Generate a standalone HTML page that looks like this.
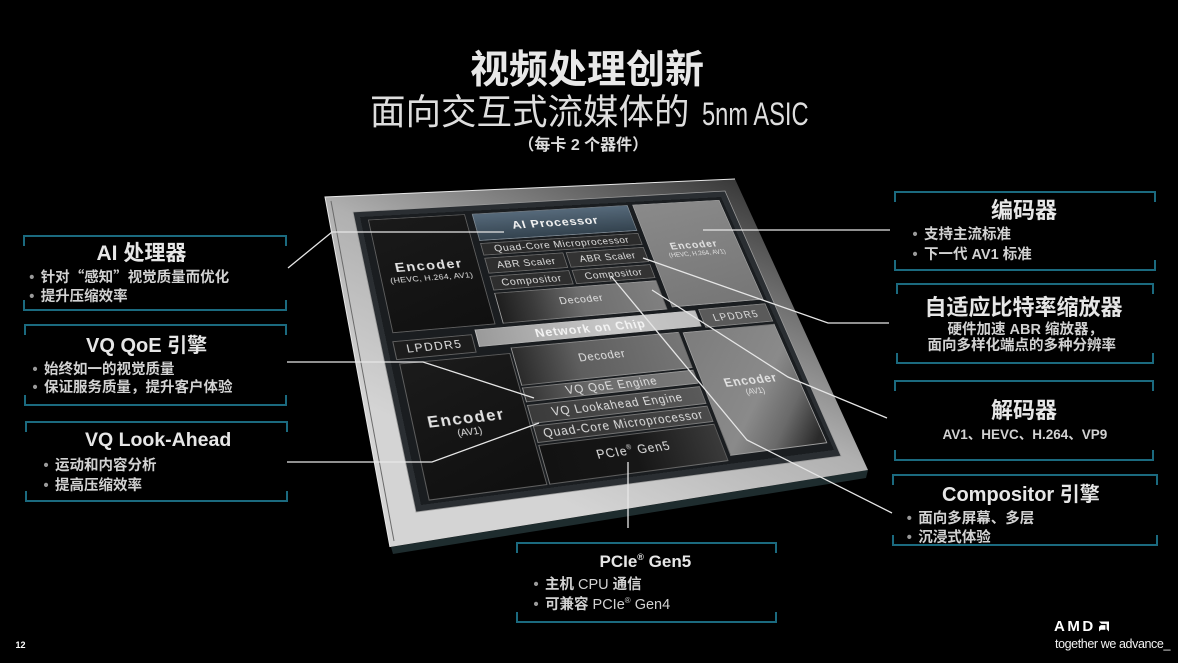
<!DOCTYPE html>
<html><head><meta charset="utf-8">
<style>
*{margin:0;padding:0;box-sizing:border-box}
html,body{width:1178px;height:663px;background:#000;overflow:hidden}
body{position:relative;font-family:"Liberation Sans","Noto Sans CJK SC",sans-serif}
.t{position:absolute;white-space:nowrap;line-height:1;z-index:4}
.bt{font-weight:bold;color:#e6e6e6}
.bl{font-weight:bold;color:#d2d2d2;font-size:14.5px}
.b{display:inline-block;width:11.5px;color:#9a9a9a}
.q{font-family:"Noto Sans CJK SC",sans-serif}
#die{position:absolute;left:0;top:0;width:440px;height:320px;transform-origin:0 0;
transform:matrix3d(0.99209,0.001432,0,0.00023805,-0.012719,0.65606,0,-0.00048303,0,0,1,0,360,217,0,1);
background:#1a1d20;z-index:2}
#die div{position:absolute;display:flex;flex-direction:column;align-items:center;justify-content:center;color:#e2e2e2;line-height:1;white-space:nowrap;border:1px solid rgba(195,195,195,.42);font-family:"Liberation Sans",sans-serif}
#die span{display:block}
.enc{font-weight:bold}
</style></head>
<body>

<svg width="1178" height="663" style="position:absolute;left:0;top:0;z-index:1">
<defs>
<linearGradient id="fg" gradientUnits="userSpaceOnUse" x1="760" y1="190" x2="600" y2="520">
<stop offset="0" stop-color="#383838"/>
<stop offset="0.3" stop-color="#7a7a7a"/>
<stop offset="0.55" stop-color="#b0b0b0"/>
<stop offset="1" stop-color="#d4d4d4"/>
</linearGradient>
</defs>
<polygon points="391,547 868,470 866,478 393,554" fill="#1e2c2e"/>
<polygon points="325,197 735,179 868,470 390,547" fill="url(#fg)"/>
<polyline points="390,547 325,197 735,179" fill="none" stroke="#e8e8e8" stroke-width="1"/>
<polyline points="394,541 331,201" fill="none" stroke="#6a6a6a" stroke-width="1"/>
<polygon points="353,212 725,191 841,456 416,512" fill="#2a2e32" stroke="#9a9a9a" stroke-width="0.8"/>
</svg>

<div id="die">
  <div style="left:8px;top:4px;width:110px;height:139px;background:linear-gradient(160deg,#1a1a1a,#101010)"><span class="enc" style="font-size:16px;letter-spacing:1.5px">Encoder</span><span style="font-size:9.5px;margin-top:2px;letter-spacing:.3px">(HEVC, H.264, AV1)</span></div>
  <div style="left:126px;top:4px;width:190px;height:36px;background:linear-gradient(#56697a,#34434f)"><span style="font-size:15px;font-weight:bold;letter-spacing:1px;color:#f2f2f2">AI Processor</span></div>
  <div style="left:126px;top:43px;width:190px;height:16px;background:#2b2b2b"><span style="font-size:12px;letter-spacing:.7px">Quad-Core Microprocessor</span></div>
  <div style="left:126px;top:62px;width:92px;height:20px;background:#2e2e2e"><span style="font-size:12px;letter-spacing:.6px">ABR Scaler</span></div>
  <div style="left:221px;top:62px;width:95px;height:20px;background:#333"><span style="font-size:12px;letter-spacing:.6px">ABR Scaler</span></div>
  <div style="left:126px;top:85px;width:92px;height:18px;background:#2e2e2e"><span style="font-size:12px;letter-spacing:.8px">Compositor</span></div>
  <div style="left:221px;top:85px;width:95px;height:18px;background:#333"><span style="font-size:12px;letter-spacing:.8px">Compositor</span></div>
  <div style="left:126px;top:106px;width:190px;height:37px;padding-bottom:6px;background:linear-gradient(to right,#1e1e1e 0%,#3a3a3a 20%,#6e6e6e 50%,#808080 100%)"><span style="font-size:12px;letter-spacing:.8px">Decoder</span></div>
  <div style="left:322px;top:4px;width:114px;height:137px;padding-bottom:8px;background:linear-gradient(170deg,#8a8a8a,#767676)"><span class="enc" style="font-size:13px;letter-spacing:1.2px">Encoder</span><span style="font-size:8px;margin-top:2px">(HEVC, H.264, AV1)</span></div>
  <div style="left:352px;top:146px;width:84px;height:23px;background:#5a5a5a"><span style="font-size:12px;letter-spacing:1.5px">LPDDR5</span></div>
  <div style="left:94px;top:147px;width:254px;height:20px;background:linear-gradient(to right,#9a9a9a,#c9c9c9 60%,#bdbdbd)"><span style="font-size:14px;font-weight:bold;letter-spacing:1px;color:#f4f4f4">Network on Chip</span></div>
  <div style="left:6px;top:152px;width:84px;height:21px;background:#1c1c1c"><span style="font-size:12.5px;letter-spacing:1.5px">LPDDR5</span></div>
  <div style="left:8px;top:177px;width:117px;height:140px;padding-right:8px;background:linear-gradient(160deg,#1b1b1b,#0f0f0f)"><span class="enc" style="font-size:17px;letter-spacing:1.5px">Encoder</span><span style="font-size:10px;margin-top:2px">(AV1)</span></div>
  <div style="left:127px;top:171px;width:192px;height:43px;padding-bottom:4px;background:linear-gradient(to right,#2a2a2a 0%,#5e5e5e 35%,#767676 100%)"><span style="font-size:12.5px;letter-spacing:.8px">Decoder</span></div>
  <div style="left:127px;top:216px;width:192px;height:16px;background:linear-gradient(to right,#333 0%,#6c6c6c 40%,#7a7a7a)"><span style="font-size:12.5px;letter-spacing:1px">VQ QoE Engine</span></div>
  <div style="left:127px;top:235px;width:192px;height:20px;background:linear-gradient(to right,#3a3a3a,#5a5a5a)"><span style="font-size:12.5px;letter-spacing:1px">VQ Lookahead Engine</span></div>
  <div style="left:127px;top:257px;width:192px;height:18px;background:linear-gradient(to right,#2e2e2e,#4a4a4a)"><span style="font-size:12.5px;letter-spacing:1px">Quad-Core Microprocessor</span></div>
  <div style="left:127px;top:277px;width:192px;height:40px;padding-bottom:7px;background:linear-gradient(to right,#121212 0%,#161616 50%,#3a3a3a 100%)"><span style="font-size:13px;letter-spacing:1px">PCIe<sup style="font-size:7px">®</sup> Gen5</span></div>
  <div style="left:323px;top:172px;width:113px;height:140px;padding-bottom:6px;background:linear-gradient(135deg,#7c7c7c 0%,#8a8a8a 55%,#6a6a6a 75%,#2a2a2a 95%)"><span class="enc" style="font-size:14px;letter-spacing:1px">Encoder</span><span style="font-size:9px;margin-top:2px">(AV1)</span></div>
</div>

<svg width="1178" height="663" style="position:absolute;left:0;top:0;z-index:3" fill="none">
<g stroke="#1b6a7f" stroke-width="2">
<path d="M24 246V236H286V246M24 300V310H286V300"/>
<path d="M25 335V325H286V335M25 395V405H286V395"/>
<path d="M26 432V422H287V432M26 491V501H287V491"/>
<path d="M895 202V192H1155V202M895 260V270H1155V260"/>
<path d="M897 294V284H1153V294M897 353V363H1153V353"/>
<path d="M895 391V381H1153V391M895 450V460H1153V450"/>
<path d="M893 485V475H1157V485M893 535V545H1157V535"/>
<path d="M517 553V543H776V553M517 612V622H776V612"/>
</g>
<g stroke="#e6e6e6" stroke-width="1.3">
<polyline points="288,268 332,232 504,232"/>
<polyline points="287,362 423,362 534,398"/>
<polyline points="287,462 432,462 539,423"/>
<polyline points="628,462 628,528"/>
<polyline points="703,230 890,230"/>
<polyline points="643,258 828,323 889,323"/>
<polyline points="652,290 788,377 887,418"/>
<polyline points="611,276 747,440 892,513"/>
</g>
<g transform="translate(1099,621.5)" fill="#fff">
<path d="M0 0H10V10L7.6 7.6V2.4H2.4Z"/>
<path d="M6.4 3.6V8.2H1.8L0 10V5.4L1.8 3.6Z"/>
</g>
</svg>

<div class="t" style="left:470px;top:50.7px;font-size:39px;font-weight:bold;color:#e8e8e8">视频处理创新</div>
<div class="t" style="left:370px;top:95.4px;font-size:35.5px;color:#dedede">面向交互式流媒体的</div>
<div class="t" style="left:702px;top:98.4px;font-size:32px;color:#dedede;transform:scaleX(0.74);transform-origin:0 0">5nm ASIC</div>
<div class="t" style="left:518.4px;top:138.4px;font-size:16px;font-weight:bold;color:#dcdcdc">（每卡 2 个器件）</div>

<div class="t bt" style="left:96.5px;top:242.7px;font-size:21px">AI 处理器</div>
<div class="t bl" style="left:29.2px;top:269.8px"><span class="b">•</span>针对<span class="q">“</span>感知<span class="q">”</span>视觉质量而优化</div>
<div class="t bl" style="left:29.2px;top:289.8px"><span class="b">•</span>提升压缩效率</div>

<div class="t bt" style="left:86px;top:336.3px;font-size:20px">VQ QoE 引擎</div>
<div class="t bl" style="left:32.5px;top:363.4px"><span class="b">•</span>始终如一的视觉质量</div>
<div class="t bl" style="left:32.5px;top:381.4px"><span class="b">•</span>保证服务质量，提升客户体验</div>

<div class="t bt" style="left:85px;top:431.2px;font-size:19.5px">VQ Look-Ahead</div>
<div class="t bl" style="left:43.5px;top:458.9px"><span class="b">•</span>运动和内容分析</div>
<div class="t bl" style="left:43.5px;top:478.6px"><span class="b">•</span>提高压缩效率</div>

<div class="t bt" style="left:991px;top:199.9px;font-size:22px">编码器</div>
<div class="t bl" style="left:912.5px;top:228.1px"><span class="b">•</span>支持主流标准</div>
<div class="t bl" style="left:912.5px;top:248.1px"><span class="b">•</span>下一代 AV1 标准</div>

<div class="t bt" style="left:924.5px;top:297.1px;font-size:22px">自适应比特率缩放器</div>
<div class="t bl" style="left:947.5px;top:322.8px">硬件加速 ABR 缩放器，</div>
<div class="t bl" style="left:927.5px;top:338.9px">面向多样化端点的多种分辨率</div>

<div class="t bt" style="left:991px;top:399.6px;font-size:22px">解码器</div>
<div class="t bl" style="left:942.5px;top:428.1px;font-size:13.5px">AV1、HEVC、H.264、VP9</div>

<div class="t bt" style="left:942px;top:485.3px;font-size:20px">Compositor 引擎</div>
<div class="t bl" style="left:906.8px;top:512.4px"><span class="b">•</span>面向多屏幕、多层</div>
<div class="t bl" style="left:906.8px;top:531.4px"><span class="b">•</span>沉浸式体验</div>

<div class="t bt" style="left:599.5px;top:553.4px;font-size:17px">PCIe<span style="font-size:9px;vertical-align:7px">®</span> Gen5</div>
<div class="t bl" style="left:533.5px;top:578.1px"><span class="b">•</span>主机 <span style="font-weight:normal">CPU</span> 通信</div>
<div class="t bl" style="left:533.5px;top:597.1px"><span class="b">•</span>可兼容 <span style="font-weight:normal">PCIe<span style="font-size:8px;vertical-align:6px">®</span> Gen4</span></div>

<div class="t" style="left:1054px;top:619px;font-size:15px;font-weight:bold;letter-spacing:2.5px;color:#fff">AMD</div>
<div class="t" style="left:1055px;top:637.9px;font-size:12.5px;letter-spacing:-0.4px;color:#f2f2f2">together we advance_</div>
<div class="t" style="left:15.5px;top:640.6px;font-size:9px;font-weight:bold;color:#fff">12</div>

</body></html>
